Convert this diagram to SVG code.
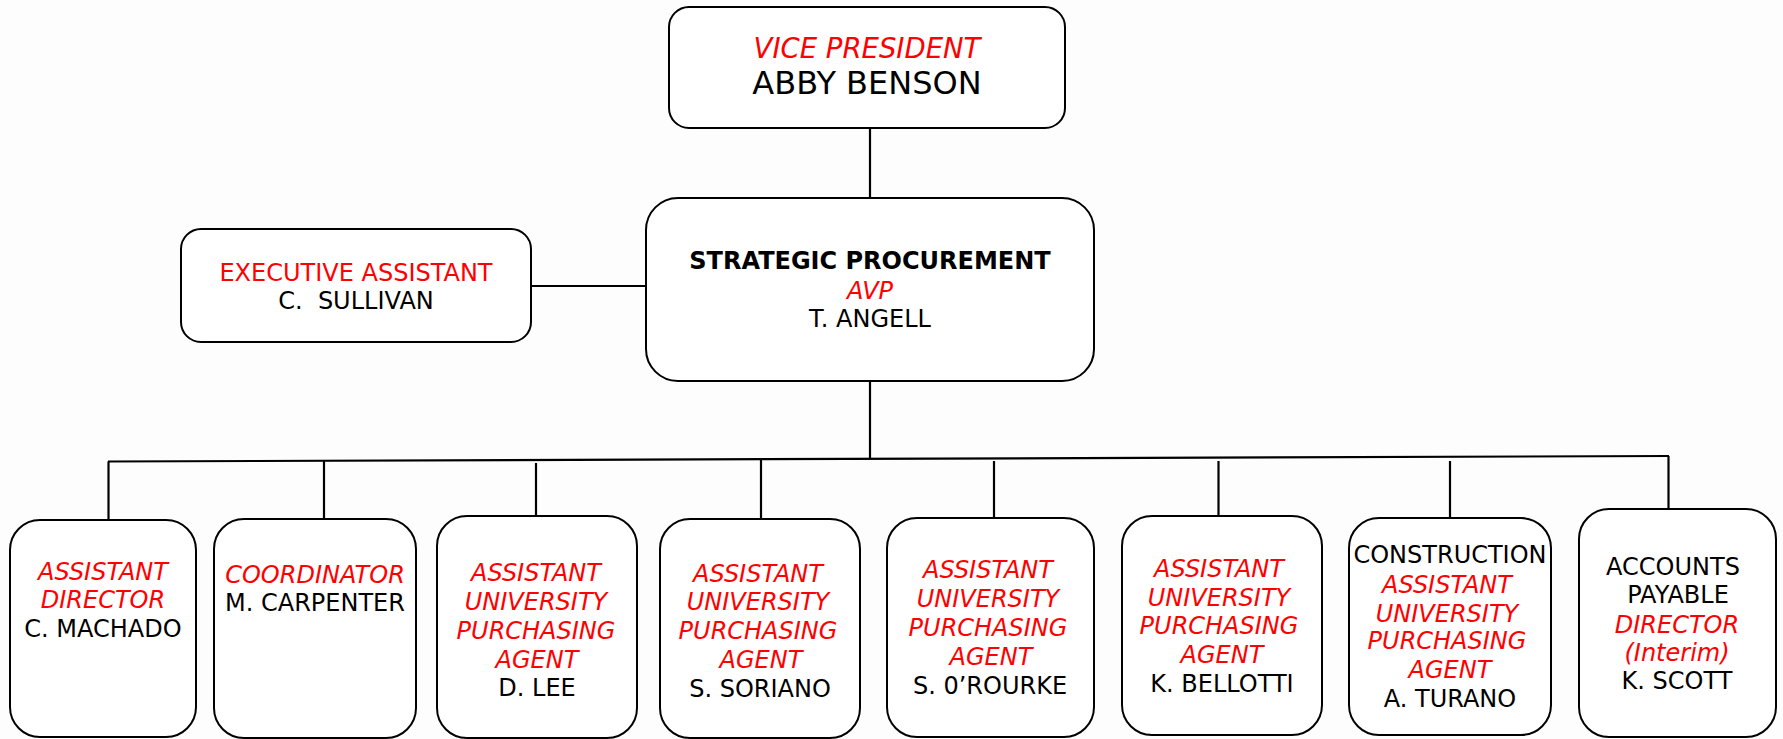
<svg xmlns="http://www.w3.org/2000/svg" width="1783" height="739" viewBox="0 0 1783 739">
<style>
.box{fill:#ffffff;stroke:#000;stroke-width:2}
.ln{stroke:#000;stroke-width:2.2;fill:none}
text{font-family:"DejaVu Sans","Verdana",sans-serif;text-anchor:middle;fill:#000}
.r{fill:#ff0000;font-style:italic}
.red{fill:#ff0000}
.t{font-size:24px}
.s{font-size:24px}
</style>
<rect x="0" y="0" width="1783" height="739" fill="#fdfdfd"/>
<g id="connectors">
<line class="ln" x1="870" y1="128" x2="870" y2="198"/>
<line class="ln" x1="531" y1="286" x2="646" y2="286"/>
<line class="ln" x1="870" y1="381" x2="870" y2="459"/>
<line class="ln" x1="108" y1="461.5" x2="1669" y2="456" stroke-width="2.6"/>
<line class="ln" x1="108.5" y1="461.5" x2="108.5" y2="520"/>
<line class="ln" x1="324" y1="460.7" x2="324" y2="519"/>
<line class="ln" x1="536" y1="463" x2="536" y2="516"/>
<line class="ln" x1="761" y1="459.2" x2="761" y2="519"/>
<line class="ln" x1="994" y1="461" x2="994" y2="518"/>
<line class="ln" x1="1218.5" y1="461" x2="1218.5" y2="516"/>
<line class="ln" x1="1450" y1="461" x2="1450" y2="518"/>
<line class="ln" x1="1668.5" y1="456" x2="1668.5" y2="509"/>
</g>
<g id="vp">
<rect class="box" x="669" y="7" width="396" height="121" rx="20"/>
<text x="867" y="58" class="r" font-size="27.5">VICE PRESIDENT</text>
<text x="867" y="94" font-size="32">ABBY BENSON</text>
</g>
<g id="exec">
<rect class="box" x="181" y="229" width="350" height="113" rx="20"/>
<text x="356" y="281" class="red t">EXECUTIVE ASSISTANT</text>
<text x="356" y="309" class="t" xml:space="preserve">C.  SULLIVAN</text>
</g>
<g id="strategic">
<rect class="box" x="646" y="198" width="448" height="183" rx="32"/>
<text x="870" y="269" font-size="24" font-weight="bold">STRATEGIC PROCUREMENT</text>
<text x="870" y="299" class="r t">AVP</text>
<text x="870" y="327" class="t">T. ANGELL</text>
</g>
<g id="machado">
<rect class="box" x="10" y="520" width="186" height="217" rx="30"/>
<text x="103" y="580" class="r s">ASSISTANT</text>
<text x="103" y="608" class="r s">DIRECTOR</text>
<text x="103" y="637" class="s">C. MACHADO</text>
</g>
<g id="carpenter">
<rect class="box" x="214" y="519" width="202" height="219" rx="30"/>
<text x="315" y="583" class="r s">COORDINATOR</text>
<text x="315" y="611" class="s">M. CARPENTER</text>
</g>
<g id="lee">
<rect class="box" x="437" y="516" width="200" height="222" rx="30"/>
<text x="536" y="581" class="r s">ASSISTANT</text>
<text x="536" y="610" class="r s">UNIVERSITY</text>
<text x="536" y="639" class="r s">PURCHASING</text>
<text x="537" y="668" class="r s">AGENT</text>
<text x="537" y="696" class="s">D. LEE</text>
</g>
<g id="soriano">
<rect class="box" x="660" y="519" width="200" height="219" rx="30"/>
<text x="758" y="582" class="r s">ASSISTANT</text>
<text x="758" y="610" class="r s">UNIVERSITY</text>
<text x="758" y="639" class="r s">PURCHASING</text>
<text x="761" y="668" class="r s">AGENT</text>
<text x="760" y="697" class="s">S. SORIANO</text>
</g>
<g id="orourke">
<rect class="box" x="887" y="518" width="207" height="219" rx="30"/>
<text x="988" y="578" class="r s">ASSISTANT</text>
<text x="988" y="607" class="r s">UNIVERSITY</text>
<text x="988" y="636" class="r s">PURCHASING</text>
<text x="991" y="665" class="r s">AGENT</text>
<text x="990" y="694" class="s">S. 0’ROURKE</text>
</g>
<g id="bellotti">
<rect class="box" x="1122" y="516" width="200" height="219" rx="30"/>
<text x="1219" y="577" class="r s">ASSISTANT</text>
<text x="1219" y="606" class="r s">UNIVERSITY</text>
<text x="1219" y="634" class="r s">PURCHASING</text>
<text x="1222" y="663" class="r s">AGENT</text>
<text x="1222" y="692" class="s">K. BELLOTTI</text>
</g>
<g id="turano">
<rect class="box" x="1349" y="518" width="202" height="217" rx="30"/>
<text x="1450" y="563" class="s">CONSTRUCTION</text>
<text x="1447" y="593" class="r s">ASSISTANT</text>
<text x="1447" y="622" class="r s">UNIVERSITY</text>
<text x="1447" y="649" class="r s">PURCHASING</text>
<text x="1450" y="678" class="r s">AGENT</text>
<text x="1450" y="707" class="s">A. TURANO</text>
</g>
<g id="scott">
<rect class="box" x="1579" y="509" width="197" height="228" rx="30"/>
<text x="1673" y="575" class="s">ACCOUNTS</text>
<text x="1678" y="603" class="s">PAYABLE</text>
<text x="1677" y="633" class="r s">DIRECTOR</text>
<text x="1677" y="661" class="r s">(Interim)</text>
<text x="1677" y="689" class="s">K. SCOTT</text>
</g>
</svg>
